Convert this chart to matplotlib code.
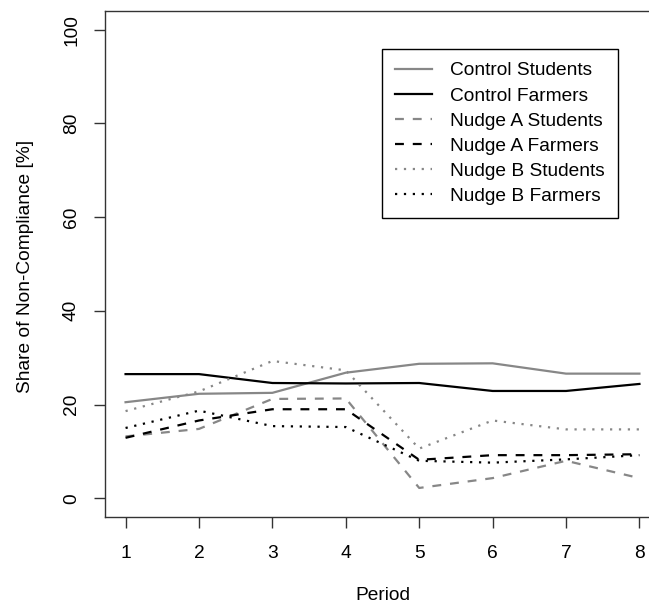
import matplotlib
matplotlib.use('Agg')
import matplotlib.pyplot as plt

plt.rcParams['font.family'] = ['Liberation Sans', 'DejaVu Sans']

periods = [1, 2, 3, 4, 5, 6, 7, 8]

control_students = [20.5, 22.3, 22.5, 26.8, 28.7, 28.8, 26.6, 26.6]
control_farmers = [26.5, 26.5, 24.6, 24.5, 24.6, 22.9, 22.9, 24.4]
nudge_a_students = [13.2, 14.8, 21.2, 21.3, 2.2, 4.3, 8.0, 4.3]
nudge_a_farmers = [12.9, 16.6, 19.0, 19.0, 8.2, 9.2, 9.2, 9.4]
nudge_b_students = [18.6, 22.8, 29.3, 27.3, 10.6, 16.6, 14.7, 14.7]
nudge_b_farmers = [15.0, 18.7, 15.4, 15.2, 8.0, 7.6, 8.3, 9.2]

labels = ["Control Students", "Control Farmers", "Nudge A Students",
          "Nudge A Farmers", "Nudge B Students", "Nudge B Farmers"]

grey = '#878787'
fs = 13.8

fig = plt.figure(figsize=(6.49, 6.09), dpi=100)
ax = fig.add_axes([105 / 649, 92 / 609, 555 / 649, 506 / 609])

ax.plot(periods, control_students, color=grey, lw=1.6, label=labels[0])
ax.plot(periods, control_farmers, color='black', lw=1.6, label=labels[1])
ax.plot(periods, nudge_a_students, color=grey, lw=1.6, dashes=(4, 4), label=labels[2])
ax.plot(periods, nudge_a_farmers, color='black', lw=1.6, dashes=(4, 4), label=labels[3])
ax.plot(periods, nudge_b_students, color=grey, lw=1.6, dashes=(1, 3), label=labels[4])
ax.plot(periods, nudge_b_farmers, color='black', lw=1.6, dashes=(1, 3), label=labels[5])

ax.set_xlim(0.72, 8.28)
ax.set_ylim(-4, 104)
ax.set_xticks(periods)
ax.set_xticklabels([str(p) for p in periods], fontsize=fs)
yt = [0, 20, 40, 60, 80, 100]
ax.set_yticks(yt)
ax.set_yticklabels([str(v) for v in yt], fontsize=fs, rotation=90, va='center')
ax.tick_params(axis='both', length=8, width=1, color='#333333')
ax.tick_params(axis='x', pad=12)
ax.tick_params(axis='y', pad=10)
for s in ax.spines.values():
    s.set_color('#333333')
    s.set_linewidth(1)

fig.text(26 / 649, 1 - 266 / 609, "Share of Non-Compliance [%]", rotation=90,
         ha='center', va='center', fontsize=fs)
fig.text((105 + 660) / 2 / 649, 14 / 609, "Period", ha='center', va='center', fontsize=fs)

leg = ax.legend(loc='upper left', bbox_to_anchor=(382 / 649, 1 - 49 / 609),
                bbox_transform=fig.transFigure, borderaxespad=0, fancybox=False,
                framealpha=1, edgecolor='black', fontsize=fs, handlelength=1.93,
                handletextpad=0.95, labelspacing=0.40, borderpad=0.68)
leg.get_frame().set_linewidth(1)

fig.savefig('out.png', dpi=100)
